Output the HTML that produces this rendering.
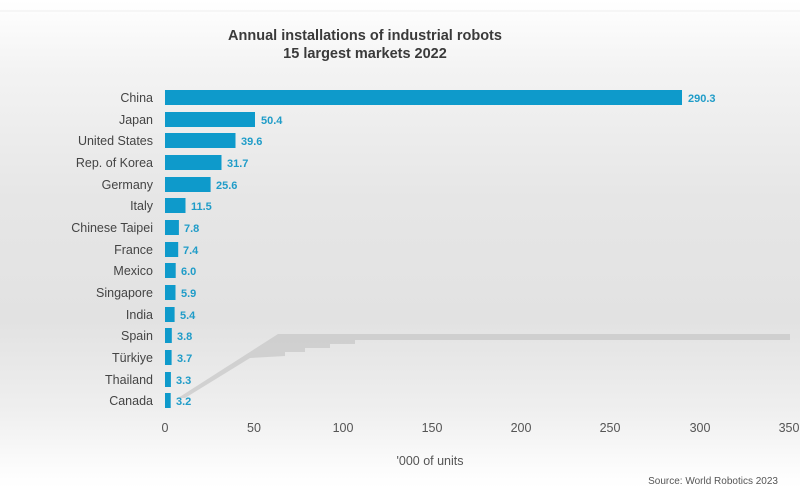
<!DOCTYPE html>
<html><head><meta charset="utf-8"><style>
html,body{margin:0;padding:0}
body{width:800px;height:488px;overflow:hidden;background:linear-gradient(to bottom,#fff 0px,#fdfdfd 12px,#f3f3f3 70px,#e6e6e6 200px,#e2e2e2 320px,#efefef 410px,#fcfcfc 470px,#fff 488px);font-family:"Liberation Sans",sans-serif;position:relative}
</style></head><body>
<svg width="800" height="488" viewBox="0 0 800 488" xmlns="http://www.w3.org/2000/svg" style="position:absolute;left:0;top:0">
<line x1="0" y1="11" x2="800" y2="11" stroke="#eeeeee" stroke-width="1"/>
<text x="365" y="40" text-anchor="middle" font-size="14.5" font-weight="bold" fill="#3a3a3a">Annual installations of industrial robots</text>
<text x="365" y="58" text-anchor="middle" font-size="14.5" font-weight="bold" fill="#3a3a3a">15 largest markets 2022</text>
<polygon points="178,398 278,334 790,334 790,340 355,340 355,344 330,344 330,348 305,348 305,352 285,352 285,356 250,358 185,398" fill="#c6c6c6" opacity="0.7"/>
<g font-size="12.5" fill="#444" text-anchor="end">
<text x="153" y="102">China</text><text x="153" y="124">Japan</text><text x="153" y="145">United States</text><text x="153" y="167">Rep. of Korea</text><text x="153" y="189">Germany</text><text x="153" y="210">Italy</text><text x="153" y="232">Chinese Taipei</text><text x="153" y="254">France</text><text x="153" y="275">Mexico</text><text x="153" y="297">Singapore</text><text x="153" y="319">India</text><text x="153" y="340">Spain</text><text x="153" y="362">Türkiye</text><text x="153" y="384">Thailand</text><text x="153" y="405">Canada</text>
</g>
<g fill="#0e9acb">
<rect x="165" y="90" width="517" height="15"/>
<rect x="165" y="112" width="90" height="15"/>
<rect x="165" y="133" width="70.5" height="15"/>
<rect x="165" y="155" width="56.5" height="15"/>
<rect x="165" y="177" width="45.6" height="15"/>
<rect x="165" y="198" width="20.5" height="15"/>
<rect x="165" y="220" width="13.9" height="15"/>
<rect x="165" y="242" width="13.2" height="15"/>
<rect x="165" y="263" width="10.7" height="15"/>
<rect x="165" y="285" width="10.5" height="15"/>
<rect x="165" y="307" width="9.6" height="15"/>
<rect x="165" y="328" width="6.8" height="15"/>
<rect x="165" y="350" width="6.6" height="15"/>
<rect x="165" y="372" width="5.9" height="15"/>
<rect x="165" y="393" width="5.7" height="15"/>
</g>
<g font-size="11" font-weight="bold" fill="#1f9cc8">
<text x="688" y="102">290.3</text><text x="261" y="124">50.4</text><text x="241" y="145">39.6</text><text x="227" y="167">31.7</text><text x="216" y="189">25.6</text><text x="191" y="210">11.5</text><text x="184" y="232">7.8</text><text x="183" y="254">7.4</text><text x="181" y="275">6.0</text><text x="181" y="297">5.9</text><text x="180" y="319">5.4</text><text x="177" y="340">3.8</text><text x="177" y="362">3.7</text><text x="176" y="384">3.3</text><text x="176" y="405">3.2</text>
</g>
<g font-size="12.5" fill="#555" text-anchor="middle">
<text x="165" y="432">0</text><text x="254" y="432">50</text><text x="343" y="432">100</text><text x="432" y="432">150</text><text x="521" y="432">200</text><text x="610" y="432">250</text><text x="700" y="432">300</text><text x="789" y="432">350</text>
<text x="430" y="465">'000 of units</text>
</g>
<text x="778" y="484" text-anchor="end" font-size="10" fill="#555">Source: World Robotics 2023</text>
</svg>
</body></html>
